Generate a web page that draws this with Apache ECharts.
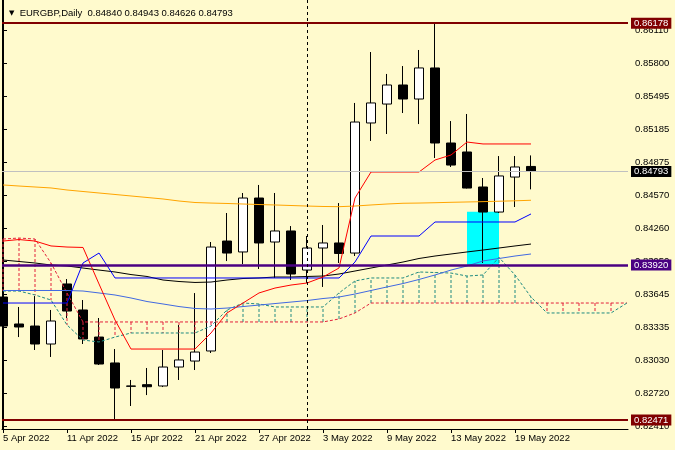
<!DOCTYPE html>
<html>
<head>
<meta charset="utf-8">
<script src="https://cdn.jsdelivr.net/npm/echarts@6.0.0/dist/echarts.min.js"></script>
<style>
html,body{margin:0;padding:0;background:#FFFACD;}
#c{width:675px;height:450px;}
</style>
</head>
<body>
<div id="c"></div>
<script>
// ---- data ----
const symbol = 'EURGBP,Daily';
const dates = ['5 Apr 2022','6 Apr 2022','7 Apr 2022','8 Apr 2022','11 Apr 2022','12 Apr 2022','13 Apr 2022','14 Apr 2022','15 Apr 2022','18 Apr 2022','19 Apr 2022','20 Apr 2022','21 Apr 2022','22 Apr 2022','25 Apr 2022','26 Apr 2022','27 Apr 2022','28 Apr 2022','29 Apr 2022','2 May 2022','3 May 2022','4 May 2022','5 May 2022','6 May 2022','9 May 2022','10 May 2022','11 May 2022','12 May 2022','13 May 2022','16 May 2022','17 May 2022','18 May 2022','19 May 2022','20 May 2022'];
const openP  = [0.83620,0.83368,0.83349,0.83181,0.83742,0.83499,0.83246,0.83004,0.82789,0.82801,0.82789,0.82966,0.83022,0.83116,0.84143,0.84041,0.84545,0.84134,0.84237,0.83872,0.84078,0.84125,0.84031,0.85246,0.85423,0.85601,0.85470,0.85760,0.85059,0.84975,0.84648,0.84414,0.84741,0.84840];
const closeP = [0.83349,0.83340,0.83181,0.83396,0.83489,0.83228,0.82994,0.82770,0.82786,0.82782,0.82966,0.83032,0.83106,0.84087,0.84031,0.84545,0.84125,0.84237,0.83835,0.84078,0.84125,0.84027,0.85255,0.85433,0.85601,0.85470,0.85760,0.85059,0.84853,0.84638,0.84414,0.84751,0.84835,0.84793];
const lowP   = [0.83274,0.83246,0.83125,0.83060,0.83424,0.83181,0.82985,0.82471,0.82602,0.82704,0.82779,0.82845,0.82938,0.83097,0.83956,0.83928,0.83882,0.83798,0.83779,0.83751,0.83714,0.83938,0.84003,0.85078,0.85143,0.85339,0.85236,0.84919,0.84835,0.84634,0.83938,0.84405,0.84461,0.84626];
const highP  = [0.83655,0.83527,0.83629,0.83499,0.83788,0.83592,0.83424,0.83134,0.82845,0.82957,0.83125,0.83358,0.83657,0.84134,0.84405,0.84592,0.84667,0.84592,0.84283,0.84190,0.84293,0.84498,0.85433,0.85909,0.85704,0.85778,0.85928,0.86178,0.85264,0.85330,0.84732,0.84937,0.84937,0.84943];

const maOrange = [0.84667,0.84657,0.84648,0.84639,0.84620,0.84606,0.84592,0.84578,0.84564,0.84550,0.84536,0.84517,0.84503,0.84498,0.84494,0.84489,0.84484,0.84480,0.84475,0.84470,0.84466,0.84464,0.84470,0.84480,0.84489,0.84496,0.84498,0.84501,0.84505,0.84508,0.84511,0.84515,0.84519,0.84524];
const maBlack  = [0.83966,0.83952,0.83938,0.83919,0.83910,0.83891,0.83872,0.83854,0.83830,0.83812,0.83779,0.83765,0.83756,0.83760,0.83779,0.83793,0.83798,0.83807,0.83807,0.83812,0.83816,0.83835,0.83863,0.83891,0.83919,0.83947,0.83980,0.84003,0.84022,0.84041,0.84059,0.84078,0.84097,0.84115];
const maSteel  = [0.83681,0.83681,0.83681,0.83681,0.83681,0.83676,0.83658,0.83639,0.83611,0.83578,0.83555,0.83531,0.83513,0.83508,0.83517,0.83531,0.83545,0.83559,0.83573,0.83587,0.83606,0.83620,0.83648,0.83681,0.83714,0.83746,0.83784,0.83826,0.83872,0.83910,0.83957,0.83980,0.84003,0.84022];
const tenkan   = [0.84143,0.84157,0.84143,0.84097,0.84087,0.84083,0.83742,0.83405,0.83134,0.83134,0.83134,0.83134,0.83134,0.83284,0.83471,0.83564,0.83658,0.83704,0.83732,0.83751,0.83807,0.83891,0.84545,0.84788,0.84788,0.84788,0.84788,0.84900,0.84947,0.85068,0.85050,0.85050,0.85050,0.85050];
const kijun    = [0.83564,0.83564,0.83564,0.83564,0.83564,0.83938,0.84031,0.83798,0.83798,0.83798,0.83798,0.83798,0.83798,0.83798,0.83798,0.83798,0.83798,0.83798,0.83798,0.83798,0.83798,0.83798,0.83947,0.84190,0.84190,0.84190,0.84190,0.84321,0.84321,0.84321,0.84321,0.84321,0.84321,0.84396];
const spanA    = [0.84162,0.84171,0.84162,0.83938,0.83658,0.83387,0.83387,0.83387,0.83387,0.83387,0.83387,0.83387,0.83387,0.83387,0.83387,0.83387,0.83387,0.83387,0.83387,0.83387,0.83387,0.83415,0.83471,0.83564,0.83564,0.83564,0.83564,0.83564,0.83564,0.83564,0.83564,0.83564,0.83564,0.83564,0.83564,0.83564,0.83564,0.83564,0.83564,0.83564];
const spanB    = [0.83676,0.83676,0.83639,0.83592,0.83359,0.83218,0.83200,0.83246,0.83284,0.83284,0.83284,0.83284,0.83284,0.83349,0.83499,0.83564,0.83555,0.83527,0.83527,0.83527,0.83527,0.83658,0.83770,0.83798,0.83798,0.83798,0.83854,0.83849,0.83844,0.83816,0.83826,0.83990,0.83826,0.83620,0.83471,0.83471,0.83471,0.83471,0.83471,0.83564];

const levelHigh = 0.86178;
const levelMid = 0.83920;
const levelLow = 0.82471;
const boxIdx = [29, 31];
const boxPrice = [0.83920, 0.84417];
const vLineIdx = 19;

const yTicks = [0.82410,0.82720,0.83030,0.83335,0.83645,0.83950,0.84260,0.84570,0.84875,0.85185,0.85495,0.85800,0.86110];
const xTickIdx = [0,4,8,12,16,20,24,28,32];

// ---- build ----
const FONT = '"Liberation Sans", Arial, sans-serif';
const n = dates.length;
const last = n - 1;
const candles = dates.map((d, i) => [i, openP[i], closeP[i], lowP[i], highP[i]]);
const toLine = arr => arr.map((v, i) => [i, v]);
const lineSeries = (arr, color, z) => ({
  type: 'line', data: toLine(arr), showSymbol: false, symbol: 'none',
  lineStyle: { color: color, width: 1 }, z: z || 4, silent: true, animation: false
});
const dashSeries = (arr, color) => ({
  type: 'line', data: toLine(arr), showSymbol: false, symbol: 'none',
  lineStyle: { color: color, width: 1, type: [3, 2] }, z: 3, silent: true, animation: false
});
const CLOUD_RED = '#E3203A', CLOUD_TEAL = '#1E8A80';

const priceLabel = (bg) => ({
  show: true, position: 'end', distance: 3,
  formatter: p => Number(p.value).toFixed(5),
  color: '#FFFFFF', backgroundColor: bg, fontFamily: FONT, fontSize: 9.5,
  padding: [1, 3, 0, 3], lineHeight: 10
});

const chart = echarts.init(document.getElementById('c'), null, { renderer: 'canvas' });
chart.setOption({
  backgroundColor: '#FFFACD',
  animation: false,
  title: {
    left: 4, top: 3,
    text: '{t|▼}  ' + symbol + '  ' + [openP[last], highP[last], lowP[last], closeP[last]].map(v => v.toFixed(5)).join(' '),
    textStyle: {
      fontFamily: FONT, fontSize: 9.5, fontWeight: 'normal', color: '#000',
      rich: { t: { fontFamily: '"DejaVu Sans", sans-serif', fontSize: 7, color: '#000' } }
    }
  },
  grid: { left: 2, right: 47, top: 0, bottom: 21, containLabel: false },
  xAxis: {
    type: 'value', min: -0.0625, max: 39.0625,
    axisLine: { show: true, onZero: false, lineStyle: { color: '#000', width: 1 } },
    axisTick: { show: true, length: 4, customValues: xTickIdx, lineStyle: { color: '#000' } },
    axisLabel: {
      customValues: xTickIdx, align: 'left', margin: 4,
      formatter: v => dates[Math.round(v)] || '',
      fontFamily: FONT, fontSize: 9.5, color: '#000'
    },
    splitLine: { show: false }
  },
  yAxis: [{
    type: 'value', position: 'right', min: 0.82387, max: 0.86395, scale: true,
    axisLine: { show: true, lineStyle: { color: '#000', width: 1 } },
    axisTick: { show: true, length: 4, customValues: yTicks, lineStyle: { color: '#000' } },
    axisLabel: {
      customValues: yTicks, margin: 7,
      formatter: v => Number(v).toFixed(5),
      fontFamily: FONT, fontSize: 9.5, color: '#000'
    },
    splitLine: { show: false }
  }, {
    type: 'value', position: 'left', min: 0.82387, max: 0.86395, scale: true,
    axisLine: { show: true, lineStyle: { color: '#000', width: 1 } },
    axisTick: { show: false }, axisLabel: { show: false }, splitLine: { show: false }
  }],
  series: [
    {
      type: 'line', data: [], z: 1, silent: true,
      markArea: {
        silent: true,
        itemStyle: { color: '#00FFFF', opacity: 1 },
        data: [[{ xAxis: boxIdx[0], yAxis: boxPrice[0] }, { xAxis: boxIdx[1], yAxis: boxPrice[1] }]]
      }
    },
    {
      type: 'candlestick', data: candles, z: 2, barWidth: 10, silent: true,
      encode: { x: 0, y: [1, 2, 3, 4] },
      itemStyle: { color: '#FFFFFF', color0: '#000000', borderColor: '#000000', borderColor0: '#000000', borderWidth: 1 },
      markLine: {
        silent: true, symbol: ['none', 'none'], animation: false, precision: 5,
        data: [
          { yAxis: closeP[last], lineStyle: { color: '#C0C0C0', width: 1, type: 'solid' }, label: priceLabel('#000000') },
          { yAxis: levelHigh, lineStyle: { color: '#800000', width: 2, type: 'solid' }, label: priceLabel('#800000') },
          { yAxis: levelLow, lineStyle: { color: '#800000', width: 2, type: 'solid' }, label: priceLabel('#800000') },
          { yAxis: levelMid, lineStyle: { color: '#4B0082', width: 2.5, type: 'solid' }, label: priceLabel('#4B0082') },
          { xAxis: vLineIdx, lineStyle: { color: '#000000', width: 1, type: [3, 3] }, label: { show: false } }
        ]
      }
    },
    {
      type: 'custom', z: 3, silent: true,
      data: spanA.map((a, i) => [i, a, spanB[i]]),
      encode: { x: 0, y: [1, 2] },
      renderItem: (params, api) => {
        const i = api.value(0), a = api.value(1), b = api.value(2);
        const p1 = api.coord([i, a]), p2 = api.coord([i, b]);
        return {
          type: 'line',
          shape: { x1: p1[0], y1: p1[1], x2: p2[0], y2: p2[1] },
          style: { stroke: a > b ? CLOUD_RED : CLOUD_TEAL, lineWidth: 1, lineDash: [3, 2] }
        };
      }
    },
    dashSeries(spanA, CLOUD_RED),
    dashSeries(spanB, CLOUD_TEAL),
    lineSeries(maOrange, '#FFA500'),
    lineSeries(maSteel, '#4169E1'),
    lineSeries(maBlack, '#000000'),
    lineSeries(kijun, '#0000FF'),
    lineSeries(tenkan, '#FF0000')
  ]
});
</script>
</body>
</html>
